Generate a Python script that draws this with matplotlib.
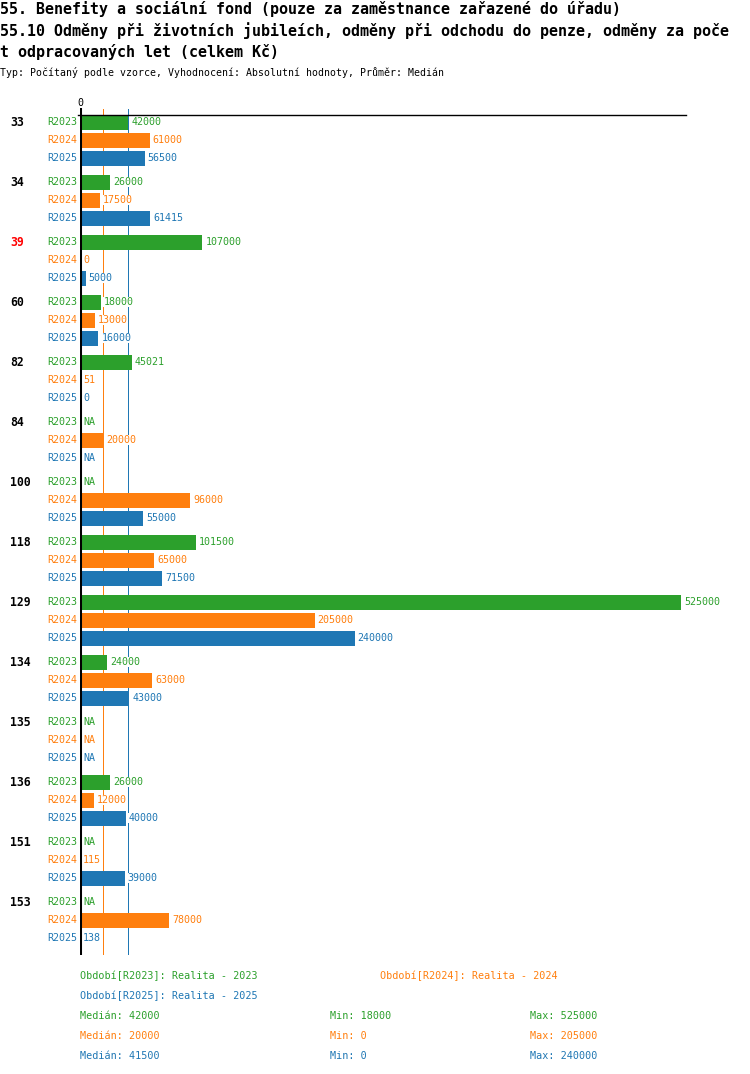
import numpy as np
import matplotlib.pyplot as plt

# data
groups = ['33', '34', '39', '60', '82', '84', '100', '118', '129', '134', '135', '136', '151', '153']
red_groups = ['39']
periods = ['R2023', 'R2024', 'R2025']
period_names = ['Realita - 2023', 'Realita - 2024', 'Realita - 2025']
r2023 = [42000, 26000, 107000, 18000, 45021, None, None, 101500, 525000, 24000, None, 26000, None, None]
r2024 = [61000, 17500, 0, 13000, 51, 20000, 96000, 65000, 205000, 63000, None, 12000, 115, 78000]
r2025 = [56500, 61415, 5000, 16000, 0, None, 55000, 71500, 240000, 43000, None, 40000, 39000, 138]
series = [r2023, r2024, r2025]
colors = ['#2ca02c', '#ff7f0e', '#1f77b4']

title1 = '55. Benefity a sociální fond (pouze za zaměstnance zařazené do úřadu)'
title2 = '55.10 Odměny při životních jubileích, odměny při odchodu do penze, odměny za poče'
title3 = 't odpracovaných let (celkem Kč)'
subtitle = 'Typ: Počítaný podle vzorce, Vyhodnocení: Absolutní hodnoty, Průměr: Medián'

plt.rcParams['font.family'] = ['DejaVu Sans Mono']

W, H = 750, 1074
fig = plt.figure(figsize=(W / 100, H / 100), dpi=100)


def px(x, y):
    return x / W, 1 - y / H


# plot area in pixel units vertically (1 unit = 1 px)
top, bottom, left, right = 108, 955, 80, 686
ax = fig.add_axes([left / W, 1 - bottom / H, (right - left) / W, (bottom - top) / H])
xmax = 525000 * (right - left) / 601
ax.set_xlim(0, xmax)
ax.set_ylim(bottom - top, 0)
ax.axis('off')

group_step, row_step, first_row = 60, 18, 14

# median lines (behind bars)
medians = []
for vals, c in zip(series, colors):
    v = [x for x in vals if x is not None]
    med = np.median(v)
    medians.append((med, min(v), max(v)))
    ax.plot([med, med], [1, bottom - top], color=c, lw=0.55, zorder=1, antialiased=False)

for g, name in enumerate(groups):
    base = first_row + g * group_step
    ax.annotate(name, xy=(0, base), xytext=(-70, 0), textcoords='offset pixels',
                ha='left', va='center', fontsize=8.3, fontweight='bold',
                color='red' if name in red_groups else 'black')
    for k, (vals, c) in enumerate(zip(series, colors)):
        y = base + k * row_step
        v = vals[g]
        ax.annotate(periods[k], xy=(0, y), xytext=(-3, 0), textcoords='offset pixels',
                    ha='right', va='center', fontsize=7.2, color=c)
        if v is None:
            label, xend = 'NA', 0
        else:
            ax.barh(y, v, height=15, color=c, zorder=2)
            label, xend = str(v), v
        ax.annotate(label, xy=(xend, y), xytext=(3, 0), textcoords='offset pixels',
                    ha='left', va='center', fontsize=7.2, color=c, zorder=3,
                    bbox=dict(facecolor='white', edgecolor='none', pad=0.3))

# axes lines
ax.plot([-2 * xmax / 606, xmax], [6.5, 6.5], color='black', lw=1, zorder=4, clip_on=False)
ax.plot([0, 0], [1, bottom - top], color='black', lw=2.2, zorder=4)
ax.annotate('0', xy=(0, 0), xytext=(0, 5), textcoords='offset pixels',
            ha='center', va='center', fontsize=7.2, color='black')

# titles
fig.text(*px(0, 9), title1, fontsize=10.8, fontweight='bold', va='center')
fig.text(*px(0, 31), title2, fontsize=10.8, fontweight='bold', va='center')
fig.text(*px(0, 52), title3, fontsize=10.8, fontweight='bold', va='center')
fig.text(*px(0, 73), subtitle, fontsize=7.1, va='center')

# legend
fig.text(*px(80, 976), f'Období[{periods[0]}]: {period_names[0]}', fontsize=7.3, color=colors[0], va='center')
fig.text(*px(380, 976), f'Období[{periods[1]}]: {period_names[1]}', fontsize=7.3, color=colors[1], va='center')
fig.text(*px(80, 996), f'Období[{periods[2]}]: {period_names[2]}', fontsize=7.3, color=colors[2], va='center')
for k, (med, mn, mx) in enumerate(medians):
    y = 1016 + k * 20
    fig.text(*px(80, y), f'Medián: {med:.0f}', fontsize=7.3, color=colors[k], va='center')
    fig.text(*px(330, y), f'Min: {mn}', fontsize=7.3, color=colors[k], va='center')
    fig.text(*px(530, y), f'Max: {mx}', fontsize=7.3, color=colors[k], va='center')

fig.savefig('out.png', dpi=100)
